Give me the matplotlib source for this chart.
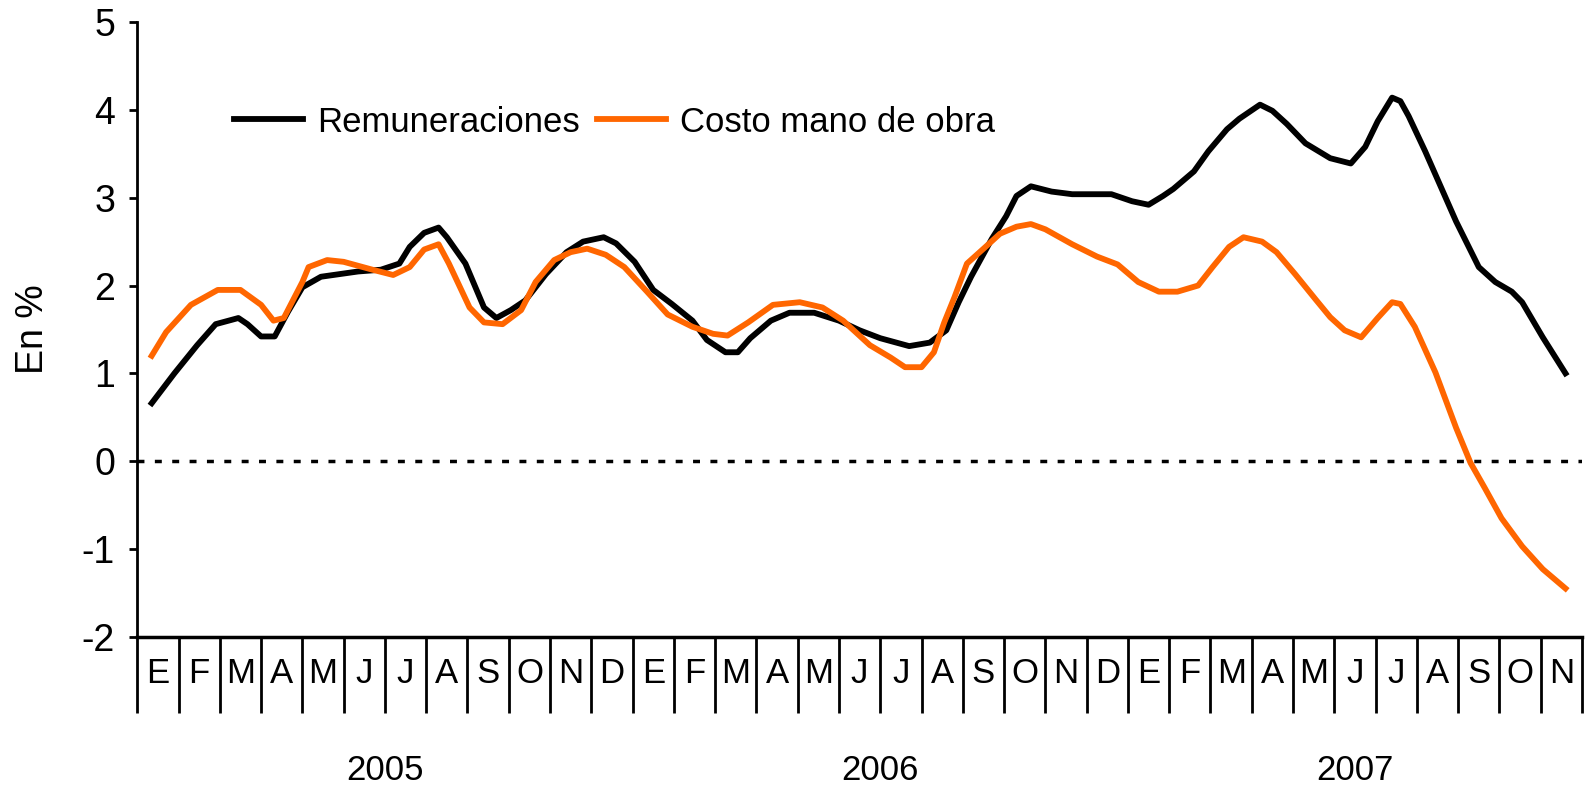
import matplotlib.pyplot as plt
from matplotlib.transforms import blended_transform_factory

plt.rcParams['font.family'] = ['Liberation Sans', 'DejaVu Sans']
plt.rcParams['axes.unicode_minus'] = False

# posicion en meses desde enero 2005 (0 = inicio de enero 2005)
rem_x = [0.35, 0.9, 1.45, 1.9, 2.45, 2.67, 3.0, 3.33, 3.65, 4.0, 4.45, 5.35, 5.9,
         6.35, 6.6, 6.95, 7.3, 7.5, 7.95, 8.4, 8.7, 9.05, 9.4, 9.9, 10.4, 10.8,
         11.3, 11.6, 12.05, 12.5, 12.95, 13.45, 13.8, 14.25, 14.55, 14.85, 15.35,
         15.8, 16.4, 17.0, 17.5, 18.0, 18.7, 19.2, 19.6, 19.9, 20.2, 20.7, 21.05,
         21.3, 21.65, 22.15, 22.65, 23.6, 24.1, 24.5, 24.85, 25.1, 25.6, 25.95,
         26.4, 26.7, 27.2, 27.5, 27.85, 28.3, 28.9, 29.4, 29.75, 30.05, 30.4, 30.6,
         30.8, 31.2, 31.95, 32.5, 32.9, 33.3, 33.55, 34.05, 34.6]
rem_y = [0.66, 1.0, 1.32, 1.56, 1.63, 1.56, 1.42, 1.42, 1.70, 1.98, 2.1, 2.16, 2.18,
         2.25, 2.44, 2.6, 2.66, 2.55, 2.25, 1.75, 1.63, 1.72, 1.83, 2.13, 2.38, 2.5,
         2.55, 2.48, 2.27, 1.95, 1.79, 1.6, 1.38, 1.24, 1.24, 1.4, 1.6,
         1.69, 1.69, 1.6, 1.49, 1.40, 1.31, 1.35, 1.49, 1.81, 2.1, 2.53, 2.79,
         3.02, 3.13, 3.07, 3.04, 3.04, 2.96, 2.92, 3.02, 3.1, 3.3, 3.53,
         3.78, 3.9, 4.06, 3.99, 3.84, 3.62, 3.45, 3.39, 3.58, 3.87, 4.14, 4.1,
         3.93, 3.53, 2.73, 2.21, 2.04, 1.93, 1.81, 1.41, 1.0]

costo_x = [0.35, 0.7, 1.3, 1.95, 2.5, 3.0, 3.3, 3.55, 4.0, 4.15, 4.6, 5.0, 5.7, 6.2,
           6.6, 6.95, 7.3, 7.55, 8.05, 8.4, 8.85, 9.3, 9.65, 10.1, 10.5, 10.9, 11.35,
           11.8, 12.35, 12.85, 13.45, 13.95, 14.3, 14.8, 15.4, 16.05, 16.6, 17.1,
           17.75, 18.25, 18.6, 19.0, 19.3, 19.55, 19.8, 20.1, 20.55, 20.9, 21.3,
           21.65, 22.0, 22.65, 23.25, 23.75, 24.25, 24.75, 25.2, 25.7, 26.05, 26.45,
           26.8, 27.25, 27.6, 28.05, 28.55, 28.9, 29.25, 29.65, 30.05, 30.4, 30.6,
           30.95, 31.45, 31.95, 32.3, 32.65, 33.05, 33.55, 34.05, 34.6]
costo_y = [1.2, 1.47, 1.78, 1.95, 1.95, 1.78, 1.6, 1.63, 2.04, 2.21, 2.29, 2.27, 2.18, 2.12,
           2.21, 2.41, 2.47, 2.25, 1.75, 1.58, 1.56, 1.72, 2.04, 2.29, 2.38, 2.42, 2.35,
           2.21, 1.93, 1.67, 1.53, 1.45, 1.43, 1.58, 1.78, 1.81, 1.75, 1.6,
           1.32, 1.18, 1.07, 1.07, 1.24, 1.58, 1.87, 2.25, 2.44, 2.59, 2.67,
           2.7, 2.64, 2.47, 2.33, 2.24, 2.04, 1.93, 1.93, 2.0, 2.21, 2.44,
           2.55, 2.5, 2.38, 2.13, 1.84, 1.64, 1.49, 1.41, 1.63, 1.81, 1.79,
           1.53, 1.01, 0.38, -0.02, -0.31, -0.65, -0.97, -1.23, -1.45]

meses = ['E', 'F', 'M', 'A', 'M', 'J', 'J', 'A', 'S', 'O', 'N', 'D'] * 2 + \
        ['E', 'F', 'M', 'A', 'M', 'J', 'J', 'A', 'S', 'O', 'N']
anios = ['2005', '2006', '2007']
anio_ini = [0, 12, 24]
anio_fin = [12, 24, 35]

fs = 25

fig = plt.figure(figsize=(15.85, 7.9), dpi=100)
ax = fig.add_axes([0.0866, 0.194, 0.9115, 0.778])

ax.plot(rem_x, rem_y, color='black', lw=4.2, label='Remuneraciones', solid_joinstyle='round')
ax.plot(costo_x, costo_y, color='#ff6600', lw=4.2, label='Costo mano de obra', solid_joinstyle='round')
ax.axhline(0, color='black', lw=2.5, linestyle=(0, (2.0, 3.0)))

ax.set_xlim(0, 35)
ax.set_ylim(-2, 5)
ax.set_yticks(range(-2, 6))
ax.tick_params(axis='y', labelsize=27, length=6, width=2, pad=10)
ax.set_ylabel('En %', fontsize=27)
ax.yaxis.set_label_coords(-0.06, 0.5)

for s in ['top', 'right']:
    ax.spines[s].set_visible(False)
ax.spines['left'].set_linewidth(2)
ax.spines['bottom'].set_linewidth(2.5)

# separadores de meses y anios
ax.set_xticks(range(0, 36))
ax.set_xticklabels([])
ax.tick_params(axis='x', length=55, width=2, direction='out')
ax.set_xticks(anio_ini + [35], minor=True)
ax.tick_params(axis='x', which='minor', length=112, width=2, direction='out')

tr = blended_transform_factory(ax.transData, ax.transAxes)
for i, m in enumerate(meses):
    ax.text(i + 0.5, -0.06, m, transform=tr, ha='center', va='center', fontsize=fs)
for a, i0, i1 in zip(anios, anio_ini, anio_fin):
    ax.text((i0 + i1) / 2, -0.218, a, transform=tr, ha='center', va='center', fontsize=fs)

ax.legend(loc='upper left', bbox_to_anchor=(0.045, 0.915), ncol=2, frameon=False,
          fontsize=fs, handlelength=2.0, handletextpad=0.4, columnspacing=0.5)

fig.savefig('out.png', dpi=100)
